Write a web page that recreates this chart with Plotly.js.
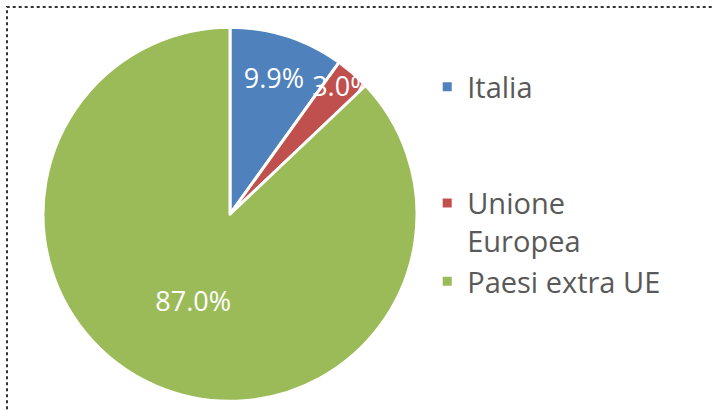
<!DOCTYPE html>
<html>
<head>
<meta charset="utf-8">
<script src="https://cdn.plot.ly/plotly-3.0.1.min.js"></script>
<style>
  html, body { margin: 0; padding: 0; background: #fff; }
  #myPlot { width: 712px; height: 410px; }
</style>
</head>
<body>
<div id="myPlot"></div>
<script>
// Provenienza - quote percentuali
var labels = ["Italia<br> <br> ", "Unione<br>Europea", "Paesi extra UE"];
var values = [9.9, 3.0, 87.0];
var colors = ["#4F81BD", "#C0504D", "#9BBB59"];

var data = [{
  type: "pie",
  labels: labels,
  values: values,
  sort: false,
  direction: "clockwise",
  rotation: 0,
  marker: {colors: colors, line: {color: "#ffffff", width: 3}},
  texttemplate: "%{value:.1f}%",
  textposition: "inside",
  insidetextorientation: "horizontal",
  textfont: {family: "Open Sans", size: 27, color: "#ffffff"},
  hoverinfo: "none",
  domain: {x: [0.0604, 0.5857], y: [0.02, 0.935]}
}];

var layout = {
  width: 712,
  height: 410,
  margin: {l: 0, r: 0, t: 0, b: 0},
  paper_bgcolor: "#ffffff",
  font: {family: "Open Sans", color: "#595959"},
  showlegend: true,
  uniformtext: {mode: "show", minsize: 27},
  legend: {
    x: 0.6, y: 0.85, xanchor: "left", yanchor: "top",
    valign: "top",
    font: {family: "Open Sans", size: 29, color: "#595959"},
    bgcolor: "rgba(0,0,0,0)"
  },
  shapes: [{
    type: "rect", xref: "paper", yref: "paper",
    x0: 7 / 712, x1: 1.05, y0: -0.05, y1: 1 - 7 / 410,
    line: {color: "#333333", width: 2, dash: "dot"}
  }]
};

Plotly.newPlot("myPlot", data, layout, {staticPlot: true});
</script>
</body>
</html>
